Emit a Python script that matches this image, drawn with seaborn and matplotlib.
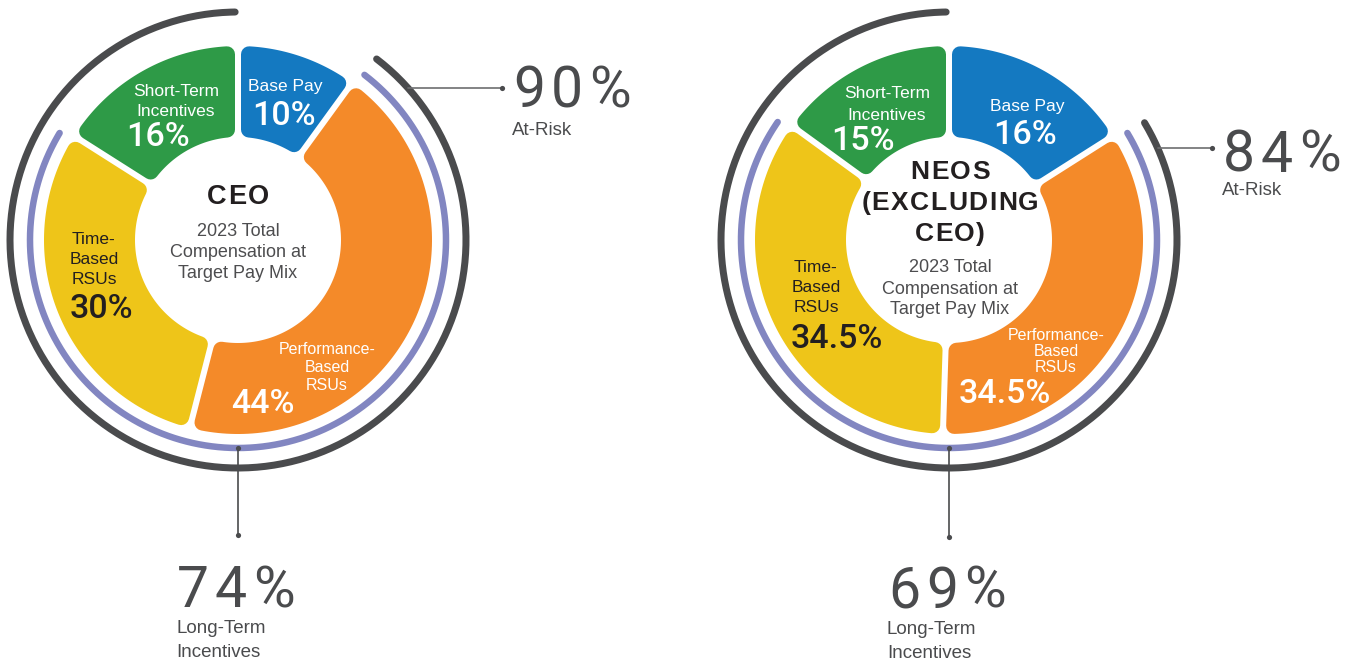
import numpy as np
import matplotlib.pyplot as plt
import seaborn as sns

# pay mix, clockwise from 12 o'clock
components = ["Base Pay", "Performance-Based RSUs", "Time-Based RSUs", "Short-Term Incentives"]
ceo_mix = [10, 44, 30, 16]
neo_mix = [16, 34.5, 34.5, 15]
ceo_at_risk = 90
neo_at_risk = 84
ceo_long_term = 74
neo_long_term = 69

colors = ["#1479C1", "#F48A29", "#EEC519", "#2E9A47"]
lavender = "#8286C1"
dark = "#4A4B4D"
txt_dark = "#231F20"
txt_grey = "#4D4D4F"

sns.set_theme(style="white")
plt.rcParams["font.family"] = ["Liberation Sans", "DejaVu Sans"]

W, H = 1357, 661
fig = plt.figure(figsize=(W / 100, H / 100), dpi=100)
ax = fig.add_axes([0, 0, 1, 1])
ax.set_xlim(0, W)
ax.set_ylim(H, 0)
ax.axis("off")

PT = 0.72  # points per pixel at dpi 100
R_IN, R_OUT, R_LAV, R_DARK = 103, 194, 208, 228


def xy(cx, cy, r, t):
    return cx + r * np.sin(t), cy - r * np.cos(t)


def segment(cx, cy, f0, f1, color, gap=6, rnd=8):
    h = gap / 2 + rnd
    ro, ri = R_OUT - rnd, R_IN + rnd
    a0, a1 = 2 * np.pi * f0, 2 * np.pi * f1
    t_out = np.linspace(a0 + np.arcsin(h / ro), a1 - np.arcsin(h / ro), 120)
    t_in = np.linspace(a1 - np.arcsin(h / ri), a0 + np.arcsin(h / ri), 120)
    xo, yo = xy(cx, cy, ro, t_out)
    xi, yi = xy(cx, cy, ri, t_in)
    ax.fill(np.r_[xo, xi], np.r_[yo, yi], fc=color, ec=color,
            lw=2 * rnd * PT, joinstyle="round", zorder=2)


def arc(cx, cy, r, f0, f1, color, lw):
    t = np.linspace(2 * np.pi * f0, 2 * np.pi * f1, 300)
    x, y = xy(cx, cy, r, t)
    ax.plot(x, y, color=color, lw=lw * PT, solid_capstyle="round", zorder=2)


def spaced(x, y, s, track, ha="left", **kw):
    rend = fig.canvas.get_renderer()
    widths = []
    for ch in s:
        t = ax.text(0, 0, ch, **kw)
        widths.append(t.get_window_extent(rend).width)
        t.remove()
    total = sum(widths) + track * (len(s) - 1)
    if ha == "center":
        x -= total / 2
    for ch, w in zip(s, widths):
        ax.text(x, y, ch, ha="left", va="baseline", **kw)
        x += w + track


def lines(x, y0, step, texts, **kw):
    for i, s in enumerate(texts):
        ax.text(x, y0 + i * step, s, ha="center", va="baseline", **kw)


def donut(cx, cy, mix, at_risk, long_term, dot_y):
    fr = np.cumsum([0] + mix) / 100
    for i, c in enumerate(colors):
        segment(cx, cy, fr[i], fr[i + 1], c)
    base = mix[0] / 100
    arc(cx, cy, R_LAV, base + 0.004, base + long_term / 100 - 0.004, lavender, 6.5)
    arc(cx, cy, R_DARK, 1 - at_risk / 100 + 0.004, 0.998, dark, 7)
    # long-term leader
    ax.plot([cx, cx], [cy + R_LAV, dot_y], color=dark, lw=1.2, zorder=3)
    ax.scatter([cx, cx], [cy + R_LAV, dot_y], s=14, color=dark, zorder=4, lw=0)


big = dict(family=["Roboto", "DejaVu Sans"], fontweight="normal", fontsize=41, color=dark)
small = dict(fontsize=13.5, color=dark)

# ---------- CEO ----------
cx, cy = 238, 240
donut(cx, cy, ceo_mix, ceo_at_risk, ceo_long_term, 535)
yl = 88
xl = cx + np.sqrt(R_DARK ** 2 - (cy - yl) ** 2)
ax.plot([xl, 502], [yl, yl], color="#6D6E70", lw=1.2, zorder=3)
ax.scatter([502], [yl], s=14, color=dark, zorder=4, lw=0)
spaced(513, 107, f"{ceo_at_risk}%", 6, **big)
ax.text(512, 135, "At-Risk", va="baseline", **small)
spaced(177, 607, f"{ceo_long_term}%", 6, **big)
ax.text(176, 633, "Long-Term", va="baseline", **small)
ax.text(176, 657, "Incentives", va="baseline", **small)

lab = dict(fontsize=12.5, color="white")
pct = dict(family=["Roboto", "DejaVu Sans"], fontsize=24.5, fontweight="medium", color="white")
pct_dark = dict(pct, color=txt_dark)
lines(176, 96.5, 20, ["Short-Term", "Incentives"], **lab)
lines(158, 146, 0, [f"{ceo_mix[3]:g}%"], **pct)
lines(285, 90.5, 0, ["Base Pay"], **lab)
lines(284, 125, 0, [f"{ceo_mix[0]:g}%"], **pct)
lines(94, 243.5, 20, ["Time-", "Based", "RSUs"], fontsize=12.5, color=txt_dark)
lines(101, 318, 0, [f"{ceo_mix[2]:g}%"], **pct_dark)
lines(327, 353.5, 18, ["Performance-", "Based", "RSUs"], fontsize=11.5, color="white")
lines(263, 413, 0, [f"{ceo_mix[1]:g}%"], **pct)
spaced(238, 204.5, "CEO", 1.5, ha="center", fontsize=19.5, fontweight="bold", color=txt_dark)
lines(238, 236.5, 20.5, ["2023 Total", "Compensation at", "Target Pay Mix"], fontsize=13, color=txt_grey)

# ---------- NEOs ----------
cx, cy = 949, 240
donut(cx, cy, neo_mix, neo_at_risk, neo_long_term, 537)
yl = 148
xl = cx + np.sqrt(R_DARK ** 2 - (cy - yl) ** 2)
ax.plot([xl, 1212], [yl, yl], color="#6D6E70", lw=1.2, zorder=3)
ax.scatter([1212], [yl], s=14, color=dark, zorder=4, lw=0)
spaced(1223, 172, f"{neo_at_risk}%", 6, **big)
ax.text(1222, 195, "At-Risk", va="baseline", **small)
spaced(888, 608, f"{neo_long_term}%", 6, **big)
ax.text(887, 634, "Long-Term", va="baseline", **small)
ax.text(887, 658, "Incentives", va="baseline", **small)

lines(887, 98.5, 21.5, ["Short-Term", "Incentives"], **lab)
lines(863, 150, 0, [f"{neo_mix[3]:g}%"], **pct)
lines(1027, 111, 0, ["Base Pay"], **lab)
lines(1025, 144, 0, [f"{neo_mix[0]:g}%"], **pct)
lines(816, 271.5, 20, ["Time-", "Based", "RSUs"], fontsize=12.5, color=txt_dark)
lines(837, 348, 0, [f"{neo_mix[2]:g}%"], **pct_dark)
lines(1056, 340.5, 16, ["Performance-", "Based", "RSUs"], fontsize=11.5, color="white")
lines(1005, 403, 0, [f"{neo_mix[1]:g}%"], **pct)
for s, yb in [("NEOS", 179), ("(EXCLUDING", 210), ("CEO)", 241)]:
    spaced(950, yb, s, 1.5, ha="center", fontsize=19, fontweight="bold", color=txt_dark)
lines(950, 272.5, 21, ["2023 Total", "Compensation at", "Target Pay Mix"], fontsize=13, color=txt_grey)

fig.savefig("out.png", dpi=100)
